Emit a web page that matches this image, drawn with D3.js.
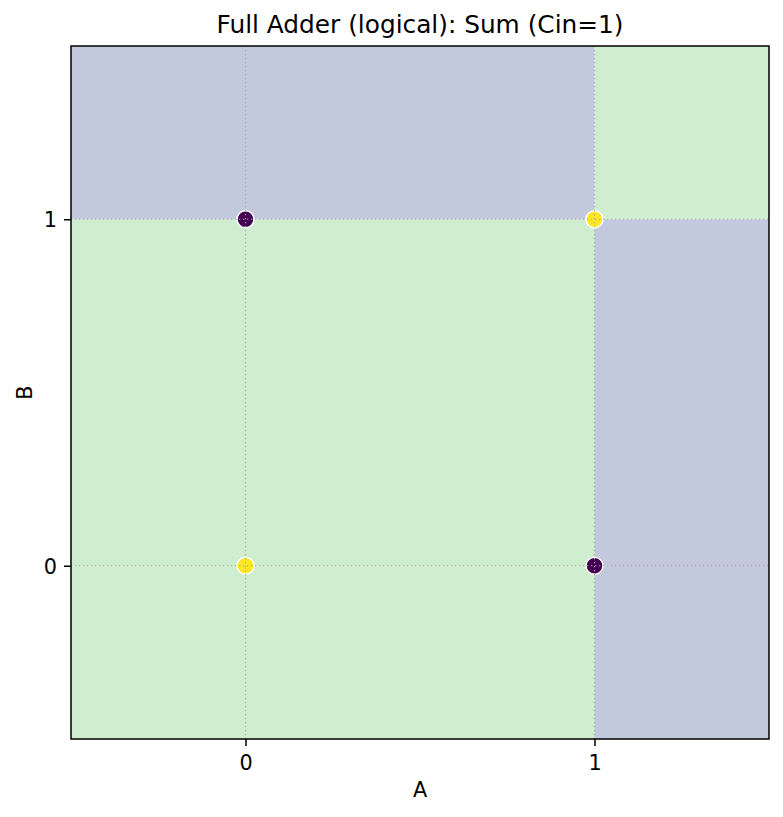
<!DOCTYPE html>
<html><head><meta charset="utf-8">
<script src="https://cdn.jsdelivr.net/npm/d3@7"></script>
<style>body{margin:0;background:#fff;} text{font-family:"DejaVu Sans",sans-serif;}</style>
</head><body>
<svg id="c" width="783" height="817"></svg>
<script>
const title = "Full Adder (logical): Sum (Cin=1)";
const xLabel = "A", yLabel = "B";
const xTicks = [0, 1], yTicks = [0, 1];
// decision regions: edges along A and B, class per cell [row by B][col by A]
const aEdges = [-0.5, 1, 1.5];
const bEdges = [-0.5, 1, 1.5];
const regionClass = [[1, 0], [0, 1]];
// data points
const ptA = [0, 0, 1, 1];
const ptB = [0, 1, 0, 1];
const ptSum = [1, 0, 0, 1];

const regionColors = {0: "#c3c9dc", 1: "#cfedcf"};
const pointColors = {0: "#440154", 1: "#fde725"};

const svg = d3.select("#c");
const L = 71, R = 769, T = 46, B = 739;
const x = d3.scaleLinear().domain([-0.5, 1.5]).range([L, R]);
const y = d3.scaleLinear().domain([-0.5, 1.5]).range([B, T]);

const cells = [];
for (let j = 0; j < bEdges.length - 1; j++)
  for (let i = 0; i < aEdges.length - 1; i++)
    cells.push({a0: aEdges[i], a1: aEdges[i+1], b0: bEdges[j], b1: bEdges[j+1], c: regionClass[j][i]});
svg.append("g").selectAll("rect").data(cells).join("rect")
  .attr("x", d => x(d.a0)).attr("width", d => x(d.a1) - x(d.a0))
  .attr("y", d => y(d.b1)).attr("height", d => y(d.b0) - y(d.b1))
  .attr("fill", d => regionColors[d.c]);

const pts = ptA.map((a, i) => ({a, b: ptB[i], s: ptSum[i]}));
svg.append("g").selectAll("circle").data(pts).join("circle")
  .attr("cx", d => x(d.a)).attr("cy", d => y(d.b)).attr("r", 8.5)
  .attr("fill", d => pointColors[d.s]).attr("stroke", "#fff").attr("stroke-width", 1.5);

// grid
const grid = svg.append("g").attr("stroke", "#a8a8a8").attr("stroke-width", 1.2).attr("stroke-dasharray", "1.3,2.7");
grid.selectAll(".gx").data(xTicks).join("line")
  .attr("x1", d => x(d)).attr("x2", d => x(d)).attr("y1", T).attr("y2", B);
grid.selectAll(".gy").data(yTicks).join("line")
  .attr("y1", d => y(d)).attr("y2", d => y(d)).attr("x1", L).attr("x2", R);

// axes
const xa = svg.append("g").attr("transform", `translate(0,${B})`)
  .call(d3.axisBottom(x).tickValues(xTicks).tickFormat(d3.format("d")).tickSize(7).tickPadding(7));
const ya = svg.append("g").attr("transform", `translate(${L},0)`)
  .call(d3.axisLeft(y).tickValues(yTicks).tickFormat(d3.format("d")).tickSize(7).tickPadding(7));
[xa, ya].forEach(g => {
  g.attr("font-size", null).attr("font-family", null);
  g.select(".domain").remove();
  g.selectAll("line").attr("stroke", "#000").attr("stroke-width", 1.5);
  g.selectAll("text").style("font-size", "20.8px").attr("fill", "#000");
});
xa.selectAll("text").attr("dy", null).attr("y", 31);
ya.selectAll("text").attr("dy", "0.36em");
svg.append("rect").attr("x", L).attr("y", T).attr("width", R - L).attr("height", B - T)
  .attr("fill", "none").attr("stroke", "#000").attr("stroke-width", 1.5);

svg.append("text").attr("x", (L + R) / 2).attr("y", 33).attr("text-anchor", "middle")
  .style("font-size", "24.8px").text(title);
svg.append("text").attr("x", (L + R) / 2).attr("y", 797).attr("text-anchor", "middle")
  .style("font-size", "20.8px").text(xLabel);
svg.append("text").attr("transform", `translate(32,${(T + B) / 2}) rotate(-90)`).attr("text-anchor", "middle")
  .style("font-size", "20.8px").text(yLabel);
</script>
</body></html>
